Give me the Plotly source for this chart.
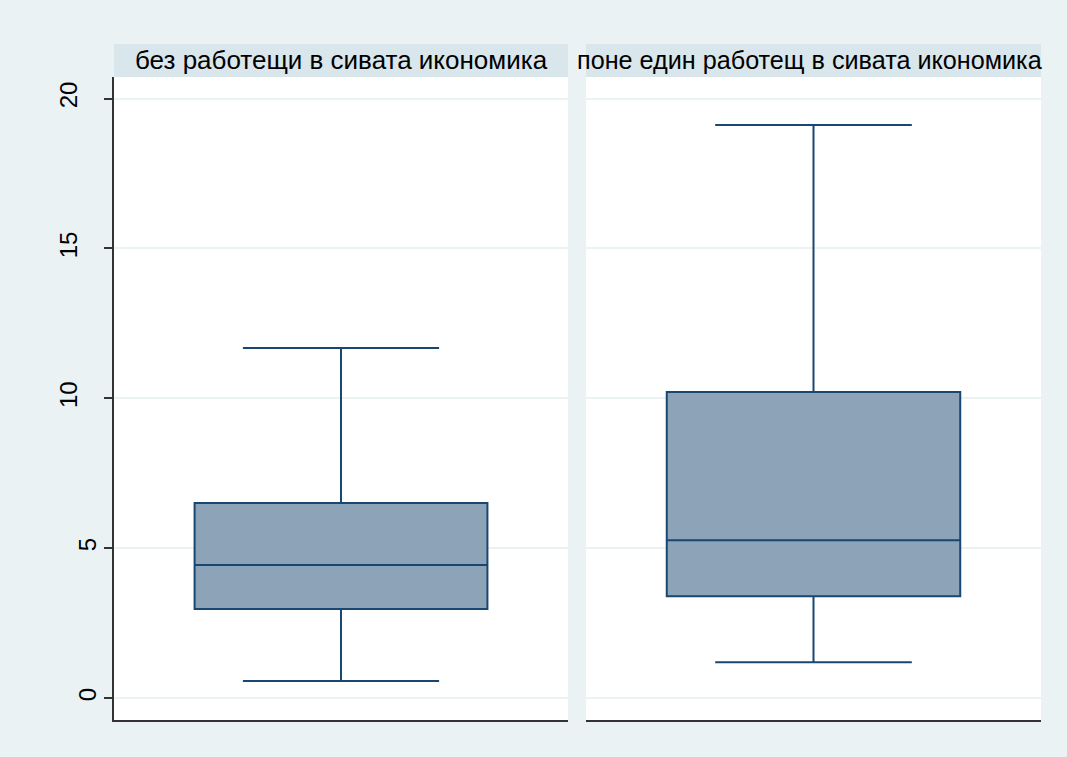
import plotly.graph_objects as go

groups = ["без работещи в сивата икономика", "поне един работещ в сивата икономика"]
lower_whisker = [0.57, 1.20]
q1 = [2.97, 3.40]
median = [4.44, 5.27]
q3 = [6.51, 10.21]
upper_whisker = [11.68, 19.12]
y_ticks = [0, 5, 10, 15, 20]

W, H = 1067, 757
BG = "#EAF2F3"
STRIP = "#D9E6EB"
FILL = "#8CA3B8"
LINE = "#1A476F"
AX = "#333333"
YRANGE = [-0.73, 20.72]

fig = go.Figure()
xdomains = [[114 / W, 568 / W], [586 / W, 1041 / W]]
ydom = [1 - 720 / H, 1 - 77 / H]

for i in range(2):
    xa = "x" if i == 0 else "x2"
    ya = "y" if i == 0 else "y2"
    fig.add_trace(go.Box(
        x=[0], q1=[q1[i]], median=[median[i]], q3=[q3[i]],
        lowerfence=[lower_whisker[i]], upperfence=[upper_whisker[i]],
        width=0.645, whiskerwidth=0.67,
        fillcolor=FILL, line=dict(color=LINE, width=2),
        boxpoints=False, showlegend=False, hoverinfo="skip",
        xaxis=xa, yaxis=ya,
    ))

# empty helper trace so the overlay axis for single-digit labels is drawn
fig.add_trace(go.Scatter(x=[], y=[], xaxis="x", yaxis="y3", showlegend=False, hoverinfo="skip"))

single = [v for v in y_ticks if v < 10]
double = [v for v in y_ticks if v >= 10]

common_x = dict(range=[-0.5, 0.5], showticklabels=False, ticks="", showgrid=False,
                zeroline=False, showline=True, linecolor=AX, linewidth=1.5)
fig.update_layout(
    width=W, height=H,
    margin=dict(l=0, r=0, t=0, b=0),
    paper_bgcolor=BG, plot_bgcolor="white",
    font=dict(family="Liberation Sans, Arial, sans-serif", size=24, color="black"),
    xaxis=dict(domain=xdomains[0], anchor="y", **common_x),
    xaxis2=dict(domain=xdomains[1], anchor="y2", **common_x),
    yaxis=dict(domain=ydom, anchor="x", range=YRANGE, tickvals=y_ticks,
               ticktext=[str(v) if v >= 10 else "" for v in y_ticks],
               ticks="outside", ticklen=8, tickwidth=1.5, tickcolor=AX,
               tickangle=-90, ticklabelstandoff=18, tickfont=dict(size=24),
               showline=True, linecolor=AX, linewidth=1.5,
               showgrid=True, gridcolor=BG, gridwidth=1.5, zeroline=False),
    yaxis3=dict(overlaying="y", anchor="x", side="left", range=YRANGE, tickvals=single,
                ticktext=[str(v) for v in single],
                ticks="outside", ticklen=8, tickwidth=1.5, tickcolor=AX,
                tickangle=-90, ticklabelstandoff=-1, tickfont=dict(size=24),
                showline=False, showgrid=False, zeroline=False),
    yaxis2=dict(domain=ydom, anchor="x2", range=YRANGE, tickvals=y_ticks,
                showticklabels=False, ticks="", showline=False,
                showgrid=True, gridcolor=BG, gridwidth=1.5, zeroline=False),
)

strip_font = [26, 25.2]
strip_center_offset = [0, -3.5 / W]
for i in range(2):
    x0, x1 = xdomains[i]
    fig.add_shape(type="rect", xref="paper", yref="paper",
                  x0=x0, x1=x1, y0=1 - 77 / H, y1=1 - 44 / H,
                  fillcolor=STRIP, line=dict(width=0), layer="below")
    fig.add_annotation(xref="paper", yref="paper",
                       x=(x0 + x1) / 2 + strip_center_offset[i], y=1 - 60.5 / H,
                       text=groups[i], showarrow=False, xanchor="center", yanchor="middle",
                       font=dict(size=strip_font[i], color="black"))

fig.write_html("out.html")
